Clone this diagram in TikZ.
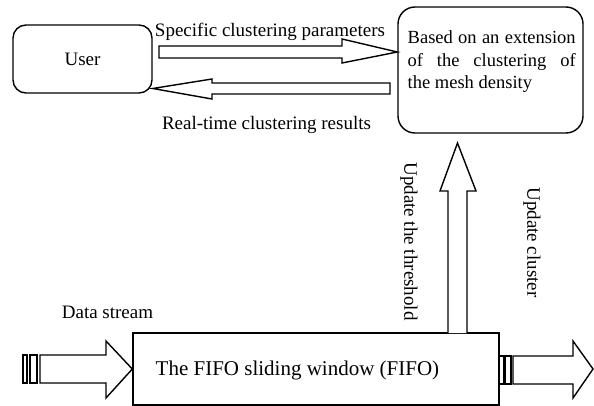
\documentclass[tikz,border=0pt]{standalone}
\usepackage{fontspec}
\setmainfont{Liberation Serif}
\begin{document}
\begin{tikzpicture}[x=1pt,y=-1pt,line width=1.4pt,line join=miter,
  rbox/.style={draw,rounded corners=13pt,inner sep=0pt},
  sbox/.style={draw,inner sep=0pt},
  lbl/.style={inner sep=0pt,font=\fontsize{19}{22.5}\selectfont},
  barrow/.style={draw,fill=white}]
\useasboundingbox (0,0) rectangle (594,406);
% boxes
\node[rbox,minimum width=139pt,minimum height=68pt,font=\fontsize{19}{22.5}\selectfont] (user) at (82.5,59) {User};
\node[rbox,rounded corners=17pt,minimum width=185pt,minimum height=126pt] (ext) at (490.5,70) {};
\node[lbl,text width=168pt,align=justify,anchor=north west,font=\fontsize{18.5}{22.5}\selectfont] (extt) at (407,30)
  {Based on an extension\linebreak of the clustering of\linebreak the mesh density};
\node[sbox,minimum width=366pt,minimum height=72pt] (fifo) at (316,369) {};
\node[lbl,anchor=west,font=\fontsize{21}{24}\selectfont] (fifot) at (155,370) {The FIFO sliding window (FIFO)};
% top arrows
\draw[barrow] (159,46) -- (342,46) -- (342,39) -- (ext.west |- 0,52) -- (342,63) -- (342,58) -- (159,58) -- cycle;
\draw[barrow] (390,83) -- (212,83) -- (212,79) -- (user.east |- 0,88.5) -- (212,99) -- (212,94) -- (390,94) -- cycle;
% vertical arrow
\draw[barrow] (448,333) -- (448,191) -- (440,191) -- (457.5,143) -- (476,191) -- (467,191) -- (467,333);
% input arrow
\draw (23,355) rectangle (27,383);
\draw (30,355) rectangle (37,383);
\draw[barrow] (40,355) -- (106,355) -- (106,341) -- (fifo.west) -- (106,398) -- (106,383) -- (40,383) -- cycle;
% output arrow
\draw (499,356) rectangle (504,384);
\draw (505,356) rectangle (511,384);
\coordinate (outtip) at (593,369);
\draw[barrow] (513,356) -- (573,356) -- (573,341) -- (outtip) -- (573,398) -- (573,384) -- (513,384) -- cycle;
% labels
\node[lbl] (lpar) at (270,32) {Specific clustering parameters};
\node[lbl] (lres) at (266.5,125) {Real-time clustering results};
\node[lbl] (lds) at (107.5,312) {Data stream};
\node[lbl,rotate=-90] (lthr) at (409,241.5) {Update the threshold};
\node[lbl,rotate=-90] (lclu) at (532,242.5) {Update cluster};
\end{tikzpicture}
\end{document}
